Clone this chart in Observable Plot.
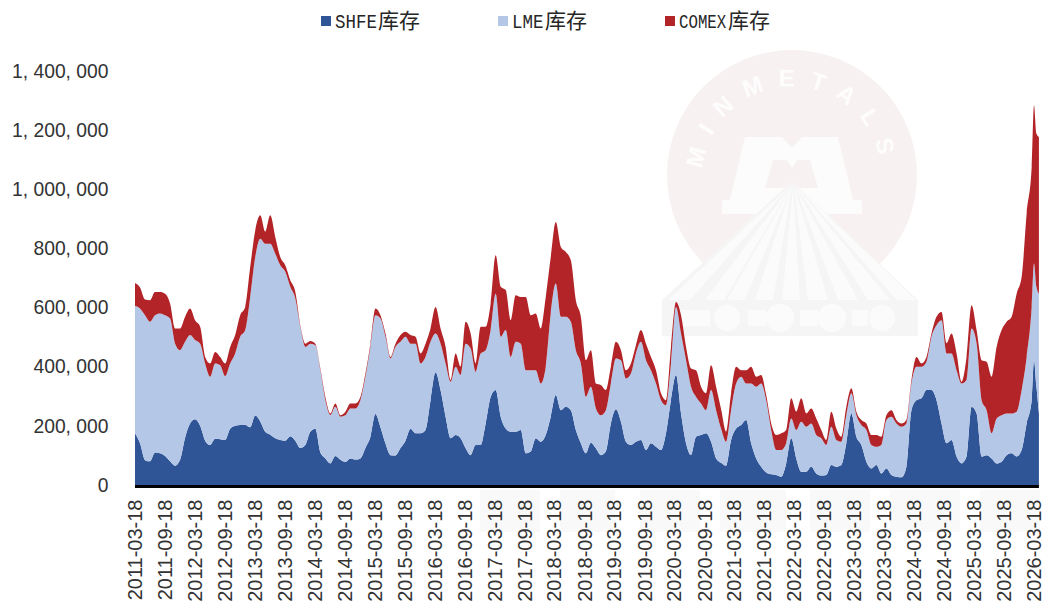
<!DOCTYPE html>
<html>
<head>
<meta charset="utf-8">
<script src="https://cdn.jsdelivr.net/npm/d3@7"></script>
<script src="https://cdn.jsdelivr.net/npm/@observablehq/plot@0.6"></script>
<style>
html,body{margin:0;padding:0;background:#fff;width:1043px;height:606px;overflow:hidden}
#page{position:relative;width:1043px;height:606px}
#wm{position:absolute;left:0;top:0}
#legend{position:absolute;left:0;top:0;width:1043px;height:40px;color:#262626}
.sw{position:absolute;top:16px;width:10px;height:10px}
.lb{position:absolute;top:4px;height:30px;line-height:30px;white-space:nowrap;font-size:21px;font-family:"Liberation Mono",monospace}
.lb i{display:inline-block;font-style:normal;transform-origin:left center;overflow:visible}
.lb b{font-family:"Noto Sans CJK SC";font-weight:400;font-size:21px}
#chart{position:absolute;left:0;top:40px}
</style>
</head>
<body>
<div id="page">
<svg id="wm" width="1043" height="606" viewBox="0 0 1043 606">
  <circle cx="792" cy="175" r="125" fill="#f8f1f1"/>
  <defs><path id="arc" d="M 708 205 A 89 89 0 1 1 876 205"/></defs>
  <text font-family="Liberation Sans" font-weight="700" font-size="24" fill="#fefdfd" letter-spacing="14" text-anchor="middle"><textPath href="#arc" startOffset="50%">MINMETALS</textPath></text>
  <path fill-rule="evenodd" fill="#fcfcfc" d="M745 137 L782 137 L792 148 L802 137 L838 137 L853 200 L862 200 L862 214 L722 214 L722 200 L730 200 Z M773 160 L787 160 L792 168 L797 160 L810 160 L818 188 L765 188 Z"/>
  <path fill="#f5f5f5" d="M792 181 L918 300 L918 336 L662 336 L662 300 Z"/>
  <path fill="#fbfbfb" d="M790 186 L690 300 L668 300 Z M791 186 L724 300 L705 300 Z M792 186 L745 300 L727 300 Z M792 186 L773 300 L755 300 Z M793 186 L800 300 L782 300 Z M794 186 L828 300 L808 300 Z M795 186 L858 300 L838 300 Z M796 186 L890 300 L868 300 Z M797 186 L916 300 L897 300 Z"/>
  <g fill="#fbfbfb"><circle cx="727" cy="318" r="13"/><circle cx="780" cy="318" r="14"/><circle cx="832" cy="318" r="14"/><circle cx="882" cy="318" r="13"/>
  <rect x="680" y="310" width="30" height="16"/><rect x="748" y="310" width="18" height="16"/><rect x="800" y="310" width="18" height="16"/><rect x="852" y="310" width="16" height="16"/></g>
  <g fill="#f9f9f9"><rect x="480" y="490" width="60" height="42"/><rect x="560" y="490" width="55" height="42"/><rect x="640" y="490" width="60" height="42"/><rect x="720" y="490" width="66" height="42"/><rect x="810" y="490" width="60" height="42"/><rect x="890" y="490" width="70" height="42"/><rect x="980" y="490" width="60" height="42"/></g>
</svg>
<div id="chart"></div>
<div id="legend">
  <div class="sw" style="left:321px;background:#2f5597"></div><div class="lb" style="left:335px"><i style="width:43px;transform:scaleX(.83)">SHFE</i><b>库存</b></div>
  <div class="sw" style="left:498px;background:#b4c7e7"></div><div class="lb" style="left:512px"><i style="width:33px;transform:scaleX(.83)">LME</i><b>库存</b></div>
  <div class="sw" style="left:665px;background:#b22428"></div><div class="lb" style="left:679px"><i style="width:49px;transform:scaleX(.75)">COMEX</i><b>库存</b></div>
</div>
</div>
<script>
const seriesNames = ["SHFE库存", "LME库存", "COMEX库存"];
const seriesColors = ["#2f5597", "#b4c7e7", "#b22428"];
const yTicks = [0, 200000, 400000, 600000, 800000, 1000000, 1200000, 1400000];
const yTickLabels = ["0", "200, 000", "400, 000", "600, 000", "800, 000", "1, 000, 000", "1, 200, 000", "1, 400, 000"];
const xTickLabels = ["2011-03-18","2011-09-18","2012-03-18","2012-09-18","2013-03-18","2013-09-18","2014-03-18","2014-09-18","2015-03-18","2015-09-18","2016-03-18","2016-09-18","2017-03-18","2017-09-18","2018-03-18","2018-09-18","2019-03-18","2019-09-18","2020-03-18","2020-09-18","2021-03-18","2021-09-18","2022-03-18","2022-09-18","2023-03-18","2023-09-18","2024-03-18","2024-09-18","2025-03-18","2025-09-18","2026-03-18"];
const tailDates = ["2026-03-18","2026-04-02","2026-04-17"];
// thousand tonnes, one value per sampling step from 2011-03-18, then the tail dates
const shfe = [175,141,84,80,110,107,98,80,65,85,160,208,222,200,150,135,156,155,152,190,200,203,203,195,235,215,180,170,158,152,150,165,150,125,135,180,190,110,90,73,98,85,78,90,86,90,125,163,240,195,140,101,100,125,150,190,175,175,186,287,381,320,231,158,169,158,124,101,135,135,208,298,321,231,191,180,180,186,107,113,158,146,169,231,304,253,265,253,186,141,107,143,124,101,113,208,256,214,146,135,146,152,118,141,129,118,175,287,372,242,141,101,163,169,175,146,90,75,65,152,191,203,220,141,90,62,42,36,34,28,73,158,90,45,45,62,39,32,34,68,62,68,141,242,163,135,79,56,68,39,56,34,28,26,62,253,287,293,321,321,287,208,141,152,96,73,96,265,242,96,101,90,73,79,101,107,96,118,208,287,422,332,242];
const lme = [430,456,490,472,464,473,476,483,413,371,324,299,268,278,261,231,255,250,216,221,245,298,321,441,536,618,636,646,624,591,571,505,481,410,332,298,283,278,197,164,167,146,158,169,173,197,241,304,334,368,361,327,367,359,351,288,303,236,247,197,131,158,180,191,231,214,354,361,248,310,248,226,326,270,333,253,304,292,281,275,230,197,231,349,377,316,304,299,270,270,191,189,135,135,140,135,172,208,214,242,299,332,304,247,214,169,95,124,230,270,281,231,135,107,78,175,163,115,81,101,152,163,123,202,242,281,245,150,84,90,68,67,96,169,152,146,130,126,101,129,90,78,95,68,73,68,107,79,61,96,164,197,180,171,146,90,113,107,96,180,253,349,304,293,292,270,259,264,237,191,152,85,152,157,141,135,152,203,225,315,327,338,405];
const comex = [78,71,53,73,79,73,73,51,51,73,85,90,67,57,22,45,39,28,43,56,62,73,78,101,90,79,40,96,57,28,22,22,22,5,11,9,5,6,11,5,11,5,12,17,17,11,11,11,23,11,11,5,11,23,17,29,23,34,45,45,90,51,56,6,45,28,74,50,28,90,79,90,130,169,135,124,158,158,248,186,192,186,236,191,208,236,219,208,169,158,124,124,84,102,68,57,56,34,28,34,28,40,56,45,45,23,17,56,17,62,45,62,90,56,57,84,79,66,34,57,57,22,45,57,34,29,17,22,51,57,45,68,62,79,45,51,56,28,17,51,39,17,29,17,12,17,22,34,40,28,16,22,12,11,12,12,33,11,16,11,29,28,34,67,57,6,78,79,45,135,164,191,242,288,310,327,399,383,485,473,535,518,530];

const start = new Date(Date.UTC(2011, 2, 18));
const stepDays = 30.53;
const sampled = d3.range(180).map(i => new Date(+start + i * stepDays * 864e5));
const dates = sampled.concat(tailDates.map(d => new Date(d + "T00:00:00Z")));
const rows = [];
[shfe, lme, comex].forEach((vals, k) => {
  vals.forEach((v, i) => rows.push({date: dates[i], value: v * 1000, series: seriesNames[k]}));
});
const xTicks = xTickLabels.map(d => new Date(d + "T00:00:00Z"));
const chart = Plot.plot({
  width: 1043, height: 566,
  marginTop: 31, marginBottom: 121, marginLeft: 135, marginRight: 9,
  style: {background: "transparent", overflow: "visible"},
  x: {type: "utc", domain: [xTicks[0], xTicks[xTicks.length - 1]]},
  y: {domain: [0, 1400000]},
  color: {domain: seriesNames, range: seriesColors},
  marks: [
    Plot.areaY(rows, {x: "date", y: "value", fill: "series", order: seriesNames, curve: "monotone-x"}),
    Plot.ruleY([0], {x1: dates[0], x2: dates[dates.length - 1], stroke: "#000", strokeWidth: 3, dy: 1}),
    Plot.axisY({ticks: yTicks, tickFormat: d => yTickLabels[yTicks.indexOf(d)], tickSize: 0, tickPadding: 27, label: null, fontSize: 19.3, fontFamily: "Liberation Sans", color: "#333"}),
    Plot.axisX({ticks: xTicks, tickFormat: d3.utcFormat("%Y-%m-%d"), tickRotate: -90, tickSize: 0, tickPadding: 14, label: null, fontSize: 20, fontFamily: "Liberation Sans", color: "#333"})
  ]
});
document.getElementById("chart").appendChild(chart);
</script>
</body>
</html>
